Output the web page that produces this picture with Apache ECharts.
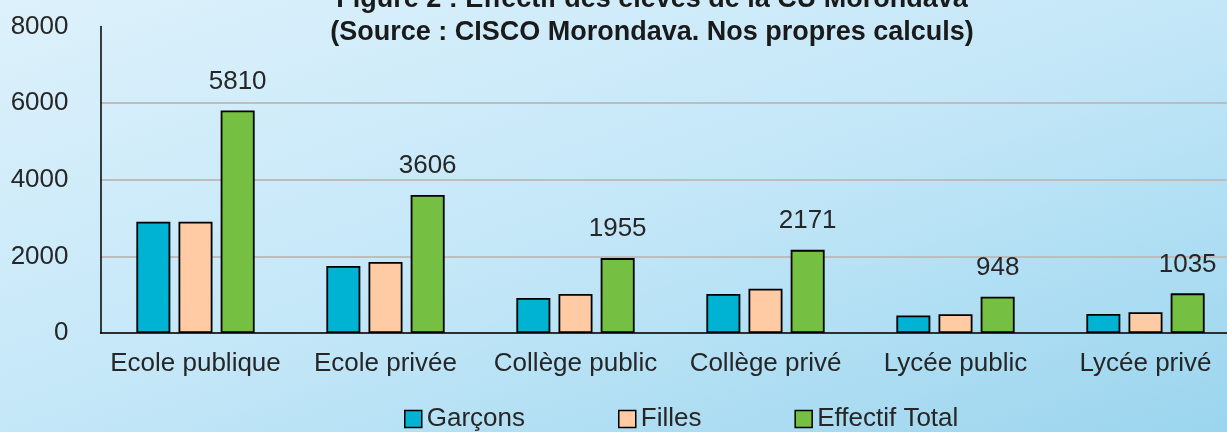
<!DOCTYPE html>
<html>
<head>
<meta charset="utf-8">
<script src="https://cdn.jsdelivr.net/npm/echarts@6/dist/echarts.min.js"></script>
<style>
html,body{margin:0;padding:0;width:1227px;height:432px;overflow:hidden;
background:linear-gradient(to bottom right,#ddf1fb 0%,#c4e7f8 50%,#9bd5ee 100%);}
#chart{width:1227px;height:432px;}
</style>
</head>
<body>
<div id="chart"></div>
<script>
const titleLine1 = 'Figure 2 : Effectif des élèves de la CU Morondava';
const titleLine2 = '(Source : CISCO Morondava. Nos propres calculs)';
const categories = ['Ecole publique', 'Ecole privée', 'Collège public', 'Collège privé', 'Lycée public', 'Lycée privé'];
const garcons = [2905, 1750, 915, 1020, 460, 495];
const filles = [2905, 1856, 1020, 1155, 490, 540];
const total = [5810, 3606, 1955, 2171, 948, 1035];
const seriesNames = ['Garçons', 'Filles', 'Effectif Total'];
const yTicks = [0, 2000, 4000, 6000, 8000];

const FONT = '"Liberation Sans", Arial, sans-serif';
const TXT = '#262626';
const chart = echarts.init(document.getElementById('chart'), null, {renderer: 'canvas'});
const border = {borderColor: '#000', borderWidth: 1.8};
chart.setOption({
  animation: false,
  backgroundColor: 'transparent',
  textStyle: {fontFamily: FONT},
  title: [
    {text: titleLine1, left: 652, top: -16, textAlign: 'center', padding: 0,
     textStyle: {fontFamily: FONT, fontSize: 27, fontWeight: 'bold', color: '#1a1a1a', lineHeight: 32}},
    {text: titleLine2, left: 652, top: 17, textAlign: 'center', padding: 0,
     textStyle: {fontFamily: FONT, fontSize: 27, fontWeight: 'bold', color: '#1a1a1a', lineHeight: 32}}
  ],
  legend: {
    left: 404, top: 406, padding: 0,
    itemWidth: 17, itemHeight: 17, itemGap: 93,
    icon: 'rect',
    data: seriesNames,
    itemStyle: {borderColor: '#000', borderWidth: 1.5},
    textStyle: {fontFamily: FONT, fontSize: 26, color: TXT}
  },
  grid: {left: 100.5, width: 1140, top: 26.6, bottom: 99, containLabel: false, outerBoundsMode: 'none'},
  xAxis: {
    type: 'category',
    data: categories,
    axisLine: {lineStyle: {color: '#000', width: 1.5}},
    axisTick: {show: false},
    axisLabel: {fontFamily: FONT, fontSize: 26, color: TXT, margin: 18, interval: 0}
  },
  yAxis: {
    type: 'value',
    min: yTicks[0], max: yTicks[yTicks.length - 1], interval: yTicks[1] - yTicks[0],
    axisLine: {show: true, lineStyle: {color: '#000', width: 1.5}},
    axisTick: {show: false},
    axisLabel: {fontFamily: FONT, fontSize: 26, color: TXT, margin: 32, formatter: v => String(v)},
    splitLine: {show: true, lineStyle: {color: ['#bdbdbd', '#bdbdbd', '#bdbdbd', '#bdbdbd', 'transparent'], width: 2}}
  },
  series: [
    {name: seriesNames[0], type: 'bar', data: garcons, barWidth: 34, barGap: '24%',
     itemStyle: Object.assign({color: '#00b3d3'}, border)},
    {name: seriesNames[1], type: 'bar', data: filles, barWidth: 34, barGap: '24%',
     itemStyle: Object.assign({color: '#fecba5'}, border)},
    {name: seriesNames[2], type: 'bar', data: total, barWidth: 34, barGap: '24%',
     itemStyle: Object.assign({color: '#75bf43'}, border),
     label: {show: true, position: 'top', distance: 16, fontFamily: FONT, fontSize: 26, color: TXT}}
  ]
});
</script>
</body>
</html>
